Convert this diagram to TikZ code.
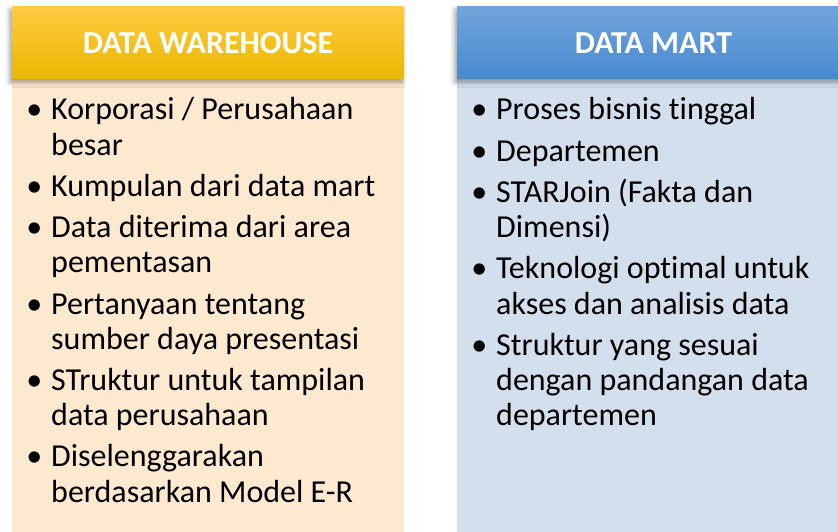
\documentclass[tikz,border=0pt]{standalone}
\usepackage{fontspec}
\setmainfont{Carlito}[Ligatures=NoCommon]
\usetikzlibrary{shadows.blur}
\definecolor{dwtop}{RGB}{255,202,64}
\definecolor{dwbottom}{RGB}{234,183,0}
\definecolor{dwbody}{RGB}{253,233,208}
\definecolor{dmtop}{RGB}{112,164,220}
\definecolor{dmbottom}{RGB}{72,138,206}
\definecolor{dmbody}{RGB}{212,223,238}

\begin{document}
\begin{tikzpicture}[x=1pt,y=-1pt]
\tikzstyle{panel}=[minimum height=453pt, inner sep=0pt]
\tikzstyle{head}=[minimum height=72pt, inner sep=0pt, text=white, font=\fontsize{32}{38}\selectfont\bfseries, blur shadow={shadow xshift=-2pt, shadow yshift=-3pt, shadow blur radius=5pt}]
\tikzstyle{item}=[anchor=base west, inner sep=0pt, text width=345pt, align=flush left, font=\fontsize{32}{35.2}\selectfont]
\newcommand{\bul}{\llap{\textbullet\hspace{9pt}}}
\useasboundingbox (0,0) rectangle (838,532);

% bodies
\node[panel, fill=dwbody, minimum width=392pt] (dwpanel) at (208,305.5) {};
\node[panel, fill=dmbody, minimum width=393pt] (dmpanel) at (653.5,305.5) {};

% headers
\node[head, top color=dwtop, bottom color=dwbottom, minimum width=392pt] (dwhead) at (208,43) {DATA WAREHOUSE};
\node[head, top color=dmtop, bottom color=dmbottom, minimum width=393pt] (dmhead) at (653.5,43) {DATA MART};

% data warehouse
\node[item] (dw1) at (51,120) {\bul Korporasi / Perusahaan\\besar};
\node[item] (dw2) at (51,196.4) {\bul Kumpulan dari data mart};
\node[item] (dw3) at (51,237.6) {\bul Data diterima dari area\\pementasan};
\node[item] (dw4) at (51,314) {\bul Pertanyaan tentang\\sumber daya presentasi};
\node[item] (dw5) at (51,390.4) {\bul STruktur untuk tampilan\\data perusahaan};
\node[item] (dw6) at (51,466.8) {\bul Diselenggarakan\\berdasarkan Model E-R};

% data mart
\node[item] (dm1) at (496,120) {\bul Proses bisnis tinggal};
\node[item] (dm2) at (496,161.2) {\bul Departemen};
\node[item] (dm3) at (496,202.4) {\bul STARJoin (Fakta dan\\Dimensi)};
\node[item] (dm4) at (496,278.8) {\bul Teknologi optimal untuk\\akses dan analisis data};
\node[item] (dm5) at (496,355.2) {\bul Struktur yang sesuai\\dengan pandangan data\\departemen};

\end{tikzpicture}
\end{document}
